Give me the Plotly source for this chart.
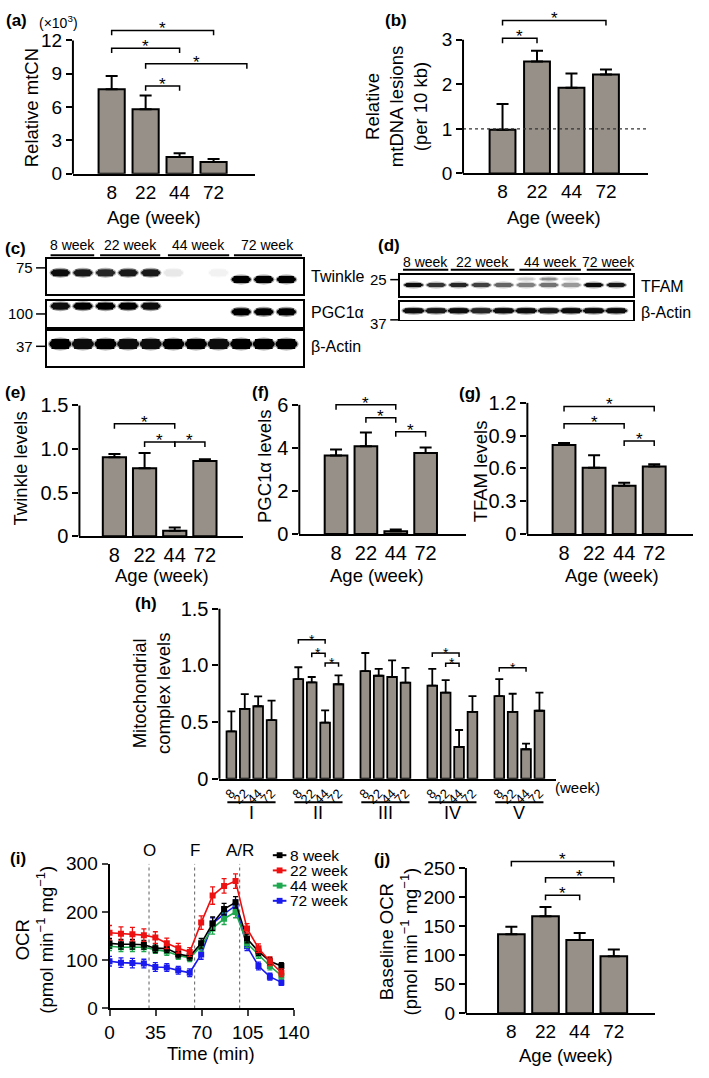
import plotly.graph_objects as go

W, H = 709, 1078
def PX(x): return x / W
def PY(y): return 1 - y / H

FONT = "Liberation Sans, Arial, Helvetica, sans-serif"
BAR_FILL = "#979089"

# ---------------- data ----------------
ages = ["8", "22", "44", "72"]
age_idx = [0, 1, 2, 3]

# (a) relative mtCN (x10^3)
mtcn = [7.6, 5.8, 1.5, 1.05]
mtcn_err = [1.2, 1.25, 0.35, 0.28]
mtcn_sig = [(0, 3, 12.9), (0, 2, 11.3), (1, 3.98, 9.9), (1, 2, 7.9)]

# (b) relative mtDNA lesions
lesions = [0.98, 2.51, 1.92, 2.22]
lesions_err = [0.58, 0.24, 0.32, 0.11]
lesions_sig = [(0, 3, 3.43), (0, 1, 3.03)]
lesion_ref = 1.0

# (e) Twinkle levels
twinkle = [0.907, 0.78, 0.064, 0.862]
twinkle_err = [0.037, 0.175, 0.036, 0.022]
twinkle_sig = [(0, 2, 1.29), (1, 2, 1.08), (2, 3, 1.08)]

# (f) PGC1a levels
pgc = [3.64, 4.07, 0.12, 3.76]
pgc_err = [0.28, 0.65, 0.08, 0.26]
pgc_sig = [(0, 2, 6.0), (1, 2, 5.4), (2, 3, 4.75)]

# (g) TFAM levels
tfam = [0.815, 0.605, 0.44, 0.618]
tfam_err = [0.018, 0.115, 0.028, 0.02]
tfam_sig = [(0, 3, 1.167), (0, 2, 1.008), (2, 3, 0.85)]

# (h) mitochondrial complex levels
complexes = ["I", "II", "III", "IV", "V"]
cx_vals = [
    [0.418, 0.617, 0.64, 0.517],
    [0.88, 0.851, 0.496, 0.834],
    [0.95, 0.909, 0.898, 0.848],
    [0.822, 0.76, 0.28, 0.59],
    [0.73, 0.59, 0.26, 0.60],
]
cx_errs = [
    [0.177, 0.13, 0.087, 0.173],
    [0.104, 0.047, 0.107, 0.078],
    [0.16, 0.061, 0.147, 0.13],
    [0.148, 0.11, 0.15, 0.14],
    [0.15, 0.16, 0.05, 0.16],
]
# (complex index, age i, age j, height)
cx_sig = [(1, 0, 2, 1.227), (1, 1, 2, 1.108), (1, 2, 3, 1.022),
          (3, 0, 2, 1.11), (3, 1, 2, 1.02), (4, 0, 2, 0.98)]

# (i) OCR time course
ocr_time = [0, 8.7, 17.4, 26.1, 34.8, 43.5, 52.2, 60.9, 69.6, 78.3, 87, 95.7, 104.4, 113.1, 121.8, 130.5]
ocr_names = ["8 week", "22 week", "44 week", "72 week"]
ocr_8 = [135, 133, 133, 132, 125, 124, 113, 108, 135, 176, 206, 220, 145, 118, 98, 88]
ocr_22 = [157, 155, 154, 152, 147, 135, 125, 117, 178, 234, 254, 264, 166, 125, 98, 74]
ocr_44 = [129, 127, 127, 127, 122, 118, 110, 105, 129, 166, 186, 200, 135, 112, 88, 68]
ocr_72 = [98, 95, 94, 93, 86, 85, 79, 74, 112, 176, 196, 213, 129, 88, 66, 54]
ocr_8_err = [10, 10, 10, 9, 9, 8, 8, 8, 10, 14, 12, 12, 9, 8, 8, 7]
ocr_22_err = [15, 14, 14, 13, 12, 11, 10, 9, 14, 18, 15, 15, 10, 9, 9, 8]
ocr_44_err = [9, 9, 9, 9, 8, 8, 8, 8, 10, 12, 12, 12, 9, 8, 8, 7]
ocr_72_err = [10, 10, 10, 9, 9, 8, 8, 8, 10, 12, 12, 12, 9, 8, 7, 6]
inj_times = [30, 64.6, 98.8]
inj_labels = ["O", "F", "A/R"]

# (j) baseline OCR
base_ocr = [136, 167, 126, 98]
base_ocr_err = [13, 16, 12, 12]
base_sig = [(0, 3, 261), (1, 3, 233), (1, 2, 203)]

# (c) western blot band intensities (11 lanes)
c_groups = ["8 week", "22 week", "44 week", "72 week"]
c_lanes = list(range(11))
c_twinkle = [0.95, 0.9, 0.85, 0.9, 0.9, 0.09, 0.0, 0.05, 1.0, 1.0, 1.0]
c_pgc = [0.95, 1.0, 1.0, 1.0, 0.95, 0.0, 0.0, 0.0, 1.0, 1.0, 1.0]
c_actin = [1.0, 0.95, 1.0, 0.95, 0.95, 1.0, 1.0, 0.95, 1.0, 1.0, 1.0]
# (d) western blot (10 lanes)
d_groups = ["8 week", "22 week", "44 week", "72 week"]
d_lanes = list(range(10))
d_tfam = [0.95, 0.8, 0.85, 0.75, 0.6, 0.5, 0.55, 0.4, 0.95, 0.9]
d_tfam_upper = [0, 0, 0, 0, 0, 0.2, 0.45, 0.15, 0, 0]
d_actin = [0.95, 0.9, 0.95, 0.85, 0.95, 0.95, 0.9, 0.95, 0.95, 0.95]

# ---------------- figure ----------------
fig = go.Figure()
annotations = []
shapes = []
layout = dict(width=W, height=H, margin=dict(l=0, r=0, t=0, b=0),
              paper_bgcolor="white", plot_bgcolor="white", showlegend=False,
              font=dict(family=FONT, color="black", size=18))
_n = [0]

def new_axes(x0, x1, ytop, ybot, xr, yr, xkw=None, ykw=None):
    _n[0] += 1
    s = "" if _n[0] == 1 else str(_n[0])
    xa = dict(domain=[PX(x0), PX(x1)], range=xr, anchor="y" + s, showgrid=False,
              zeroline=False, fixedrange=True)
    ya = dict(domain=[PY(ybot), PY(ytop)], range=yr, anchor="x" + s, showgrid=False,
              zeroline=False, fixedrange=True)
    xa.update(xkw or {})
    ya.update(ykw or {})
    layout["xaxis" + s] = xa
    layout["yaxis" + s] = ya
    return "x" + s, "y" + s

def text(x, y, t, size=18, xref="paper", yref="paper", xanchor="center", yanchor="middle", angle=0, **kw):
    d = dict(x=x, y=y, xref=xref, yref=yref, text=t, showarrow=False, xanchor=xanchor,
             yanchor=yanchor, textangle=angle, font=dict(size=size, family=FONT, color="black"))
    d.update(kw)
    annotations.append(d)

def brackets(xa, ya, sig, unit_px, drop_px=5, star=17, lw=1.5, gap=5.5):
    d = drop_px / unit_px
    for (i, j, h) in sig:
        fig.add_trace(go.Scatter(x=[i, i, j, j], y=[h - d, h, h, h - d], mode="lines",
                                 line=dict(color="black", width=lw), xaxis=xa, yaxis=ya,
                                 cliponaxis=False, hoverinfo="skip"))
        text((i + j) / 2, h, "*", size=star, xref=xa, yref=ya, yanchor="middle",
             yshift=gap - 0.23 * star)

def bar_panel(x0, x1, ytop, ybot, xr, yr, ytickvals, yticktext, vals, errs, sig,
              bw=0.77, tickfont=19, capw=6, xs=None, xtext=None, xtickangle=0, xtickfont=None,
              star=17, drop=5, ethick=2, lw=2, gap=5.5):
    xs = xs if xs is not None else age_idx
    xtext = xtext if xtext is not None else ages
    unit = (ybot - ytop) / (yr[1] - yr[0])
    top_val = max([h for (_, _, h) in sig] + [yr[1]])
    top_px = max(ybot - (top_val - yr[0]) * unit - 4, 0.5)
    ext = yr[0] + (ybot - top_px) / unit
    xa, ya = new_axes(x0, x1, top_px, ybot, xr, [yr[0], ext],
                      xkw=dict(showline=True, linewidth=2, linecolor="black", ticks="",
                               tickmode="array", tickvals=xs, ticktext=xtext, tickangle=xtickangle,
                               tickfont=dict(size=xtickfont or tickfont)),
                      ykw=dict(showline=False, ticks="outside",
                               ticklen=6, tickwidth=2, tickcolor="black", tickmode="array",
                               tickvals=ytickvals, ticktext=yticktext, tickfont=dict(size=tickfont)))
    shapes.append(dict(type="line", xref="paper", yref=ya, x0=PX(x0), x1=PX(x0),
                       y0=yr[0] - 1 / unit, y1=yr[1], line=dict(color="black", width=2)))
    fig.add_trace(go.Bar(x=xs, y=vals, width=bw, xaxis=xa, yaxis=ya,
                         marker=dict(color=BAR_FILL, line=dict(color="black", width=lw)),
                         error_y=dict(type="data", symmetric=False, array=errs,
                                      arrayminus=[0] * len(errs), color="black",
                                      thickness=ethick, width=capw)))
    brackets(xa, ya, sig, unit, drop_px=drop, star=star, gap=gap)
    return xa, ya

# (a)
bar_panel(70, 258, 31, 167, [-1.14, 4.23], [0, 12], [0, 3, 6, 9, 12],
          ["0", "3", "6", "9", "12"], mtcn, mtcn_err, mtcn_sig)
text(PX(12), PY(11), "<b>(a)</b>", size=17)
text(PX(55), PY(12), "(×10<sup>3</sup>)", size=14)
text(PX(27), PY(100), "Relative mtCN", size=18.5, angle=-90)
text(PX(154), PY(212), "Age (week)", size=18.5)

# (b)
xa, ya = bar_panel(472, 663, 30.3, 166.7, [-1.146, 4.23], [0, 3], [0, 1, 2, 3],
                   ["0", "1", "2", "3"], lesions, lesions_err, lesions_sig, bw=0.75)
fig.add_trace(go.Scatter(x=[-1.146, 4.23], y=[lesion_ref, lesion_ref], mode="lines",
                         line=dict(color="#333333", width=1.2, dash="dot"),
                         xaxis=xa, yaxis=ya, hoverinfo="skip"))
text(PX(403), PY(11), "<b>(b)</b>", size=17)
text(PX(403), PY(99), "Relative<br>mtDNA lesions<br>(per 10 kb)", size=18.5, angle=-90)
text(PX(566), PY(212), "Age (week)", size=18.5)

# blots
def blot_axes(x0, x1, ytop, ybot, xr):
    return new_axes(x0, x1, ytop, ybot, xr, [0, 1],
                    xkw=dict(showline=True, mirror=True, linewidth=1.6, linecolor="black",
                             showticklabels=False, ticks=""),
                    ykw=dict(showline=True, mirror=True, linewidth=1.6, linecolor="black",
                             showticklabels=False, ticks=""))

def gray(a):
    v = int(round(255 * (1 - a)))
    return f"rgb({v},{v},{v})"

def blot_row(xa, ya, row_px, lanes, ys, intens, thick, hw):
    dy = thick / 2 / row_px
    halo = 1.6 / row_px
    for k, yb, a in zip(lanes, ys, intens):
        if a <= 0:
            continue
        shapes.append(dict(type="circle", xref=xa, yref=ya, x0=k - hw - 0.05, x1=k + hw + 0.05,
                           y0=yb - dy - halo, y1=yb + dy + halo, fillcolor=gray(0.35 * a),
                           line=dict(width=0), layer="below"))
    for k, yb, a in zip(lanes, ys, intens):
        if a <= 0:
            continue
        shapes.append(dict(type="circle", xref=xa, yref=ya, x0=k - hw, x1=k + hw,
                           y0=yb - dy, y1=yb + dy, fillcolor=gray(a), line=dict(width=0),
                           layer="below"))
        shapes.append(dict(type="rect", xref=xa, yref=ya, x0=k - hw + 0.1, x1=k + hw - 0.1,
                           y0=yb - dy, y1=yb + dy, fillcolor=gray(a), line=dict(width=0),
                           layer="below"))

c_xr = [-0.6, 10.73]
xt, yt = blot_axes(43, 307, 254, 290, c_xr)
blot_row(xt, yt, 36, c_lanes, [0.61] * 8 + [0.42] * 3, c_twinkle, 7, 0.43)
xp, yp = blot_axes(43, 307, 296.7, 323.3, c_xr)
blot_row(xp, yp, 26.6, c_lanes, [0.8] * 8 + [0.58] * 3, c_pgc, 7, 0.43)
xb, yb = blot_axes(43, 307, 327.3, 363.3, c_xr)
blot_row(xb, yb, 36, c_lanes, [0.63] * 11, c_actin, 10, 0.49)
c_spans = [(-0.43, 1.5), (1.76, 4.42), (4.76, 7.47), (7.68, 10.69)]
for g, (s0, s1) in zip(c_groups, c_spans):
    shapes.append(dict(type="line", xref=xt, yref="paper", x0=s0, x1=s1, y0=PY(250), y1=PY(250),
                       line=dict(color="black", width=2)))
    text((s0 + s1) / 2, PY(240), g, size=14, xref=xt)
for lbl, yy in zip(["75", "100", "37"], [263, 310, 343]):
    text(PX(31), PY(yy), lbl, size=15, xanchor="right")
    shapes.append(dict(type="line", xref="paper", yref="paper", x0=PX(32), x1=PX(43),
                       y0=PY(yy), y1=PY(yy), line=dict(color="black", width=1.5)))
text(PX(313), PY(272), "Twinkle", size=16, xanchor="left")
text(PX(313), PY(308), "PGC1α", size=16, xanchor="left")
text(PX(313), PY(343), "β-Actin", size=16, xanchor="left")
text(PX(11), PY(243), "<b>(c)</b>", size=17)

d_xr = [-0.62, 9.75]
xtf, ytf = blot_axes(406.7, 647.3, 270, 291.7, d_xr)
blot_row(xtf, ytf, 21.7, d_lanes, [0.8] * 10, d_tfam_upper, 2.5, 0.4)
blot_row(xtf, ytf, 21.7, d_lanes, [0.52] * 10, d_tfam, 4, 0.43)
xda, yda = blot_axes(406.7, 647.3, 297.3, 316, d_xr)
blot_row(xda, yda, 18.7, d_lanes, [0.5] * 10, d_actin, 5, 0.49)
d_spans = [(-0.47, 1.54), (1.65, 4.48), (4.7, 7.43), (7.69, 9.66)]
for g, (s0, s1) in zip(d_groups, d_spans):
    shapes.append(dict(type="line", xref=xtf, yref="paper", x0=s0, x1=s1, y0=PY(265), y1=PY(265),
                       line=dict(color="black", width=2)))
    text((s0 + s1) / 2, PY(256.7), g, size=14, xref=xtf)
text(PX(396), PY(275), "25", size=15, xanchor="right")
shapes.append(dict(type="line", xref="paper", yref="paper", x0=PX(397), x1=PX(406.7),
                   y0=PY(275), y1=PY(275), line=dict(color="black", width=1.5)))
text(PX(396), PY(320), "37", size=15, xanchor="right")
shapes.append(dict(type="line", xref="paper", yref="paper", x0=PX(397), x1=PX(406.7),
                   y0=PY(316), y1=PY(316), line=dict(color="black", width=1.5)))
text(PX(653), PY(282), "TFAM", size=16, xanchor="left")
text(PX(653), PY(308), "β-Actin", size=16, xanchor="left")
text(PX(396), PY(240), "<b>(d)</b>", size=17)

# (e)
bar_panel(76.7, 245.5, 403.3, 536.7, [-1.16, 4.27], [0, 1.5], [0, 0.5, 1.0, 1.5],
          ["0", "0.5", "1.0", "1.5"], twinkle, twinkle_err, twinkle_sig, bw=0.77, tickfont=20)
text(PX(11), PY(390), "<b>(e)</b>", size=17)
text(PX(16), PY(468), "Twinkle levels", size=18.5, angle=-90)
text(PX(162), PY(577), "Age (week)", size=18.5)

# (f)
bar_panel(303.3, 475, 402.7, 534.3, [-1.23, 4.35], [0, 6], [0, 2, 4, 6],
          ["0", "2", "4", "6"], pgc, pgc_err, pgc_sig, bw=0.76, tickfont=20)
text(PX(263), PY(390), "<b>(f)</b>", size=17)
text(PX(268), PY(465), "PGC1α levels", size=18.5, angle=-90)
text(PX(383), PY(577), "Age (week)", size=18.5)

# (g)
bar_panel(538.3, 709, 400.7, 534.3, [-1.22, 4.29], [0, 1.2], [0, 0.3, 0.6, 0.9, 1.2],
          ["0", "0.3", "0.6", "0.9", "1.2"], tfam, tfam_err, tfam_sig, bw=0.76, tickfont=20)
text(PX(479), PY(391), "<b>(g)</b>", size=17)
text(PX(490), PY(470), "TFAM levels", size=18.5, angle=-90)
text(PX(626), PY(577), "Age (week)", size=18.5)

# (h)
h_x = [5 * g + i for g in range(5) for i in range(4)]
h_text = [a for g in range(5) for a in ages]
h_vals = [v for row in cx_vals for v in row]
h_errs = [e for row in cx_errs for e in row]
h_sig = [(5 * g + i, 5 * g + j, hh) for (g, i, j, hh) in cx_sig]
xh, yh = bar_panel(221, 568, 610.7, 784, [-0.89, 24.25], [0, 1.5], [0, 0.5, 1.0, 1.5],
                   ["0", "0.5", "1.0", "1.5"], h_vals, h_errs, h_sig, bw=0.72, tickfont=20,
                   capw=4, xs=h_x, xtext=h_text, xtickangle=-45, xtickfont=13, star=14, drop=4,
                   ethick=1.8, lw=1.8, gap=3)
for g, name in enumerate(complexes):
    shapes.append(dict(type="line", xref=xh, yref="paper", x0=5 * g - 0.3, x1=5 * g + 3.3,
                       y0=PY(808), y1=PY(808), line=dict(color="black", width=2)))
    text(5 * g + 1.5, PY(819), name, size=18, xref=xh)
text(PX(590), PY(793), "(week)", size=15)
text(PX(145), PY(605), "<b>(h)</b>", size=17)
text(PX(151), PY(697), "Mitochondrial<br>complex levels", size=18.5, angle=-90)

# (i)
xi, yi = new_axes(107.7, 297.7, 870.7, 1018.3, [0, 140], [0, 300],
                  xkw=dict(showline=True, linewidth=2, linecolor="black", ticks="outside",
                           ticklen=6, tickwidth=2, tickvals=[0, 35, 70, 105, 140],
                           tickfont=dict(size=19)),
                  ykw=dict(showline=True, linewidth=2, linecolor="black", ticks="outside",
                           ticklen=6, tickwidth=2, tickvals=[0, 100, 200, 300],
                           tickfont=dict(size=19)))
for t in inj_times:
    fig.add_trace(go.Scatter(x=[t, t], y=[0, 300], mode="lines", xaxis=xi, yaxis=yi,
                             line=dict(color="#777777", width=1.2, dash="dot"), hoverinfo="skip"))
for t, lbl in zip(inj_times, inj_labels):
    text(t, 300, lbl, size=17, xref=xi, yref=yi, yanchor="bottom", yshift=2)
ocr_colors = ["#000000", "#ee1111", "#1fa84f", "#1a1aee"]
series = [(ocr_8, ocr_8_err), (ocr_22, ocr_22_err), (ocr_44, ocr_44_err), (ocr_72, ocr_72_err)]
order = [3, 2, 0, 1]
for k in order:
    vals, errs = series[k]
    fig.add_trace(go.Scatter(x=ocr_time, y=vals, mode="lines+markers", name=ocr_names[k],
                             xaxis=xi, yaxis=yi,
                             line=dict(color=ocr_colors[k], width=1.6),
                             marker=dict(symbol="square", size=6, color=ocr_colors[k]),
                             error_y=dict(type="data", array=errs, color=ocr_colors[k],
                                          thickness=1.3, width=2.5)))
leg_y = [862, 877.5, 893, 908.5]
for k in range(4):
    shapes.append(dict(type="line", xref="paper", yref="paper", x0=PX(276), x1=PX(290),
                       y0=PY(leg_y[k]), y1=PY(leg_y[k]), line=dict(color=ocr_colors[k], width=2)))
    shapes.append(dict(type="rect", xref="paper", yref="paper", x0=PX(280), x1=PX(286),
                       y0=PY(leg_y[k] + 3), y1=PY(leg_y[k] - 3), fillcolor=ocr_colors[k],
                       line=dict(width=0)))
    text(PX(292), PY(leg_y[k]), ocr_names[k], size=15.5, xanchor="left")
text(PX(13), PY(865), "<b>(i)</b>", size=17)
text(PX(30), PY(948), "OCR<br>(pmol min<sup>−1</sup> mg<sup>−1</sup>)", size=18.5, angle=-90)
text(PX(212.5), PY(1064), "Time (min)", size=18.5)

# (j)
bar_panel(475, 670, 875, 1023.3, [-1.33, 4.21], [0, 250], [0, 50, 100, 150, 200, 250],
          ["0", "50", "100", "150", "200", "250"], base_ocr, base_ocr_err, base_sig, bw=0.78,
          tickfont=19)
text(PX(388), PY(866), "<b>(j)</b>", size=17)
text(PX(405), PY(950), "Baseline OCR<br>(pmol min<sup>−1</sup> mg<sup>−1</sup>)", size=18.5, angle=-90)
text(PX(578), PY(1066), "Age (week)", size=18.5)

layout["annotations"] = annotations
layout["shapes"] = shapes
fig.update_layout(**layout)
fig.write_html("out.html", config={"displayModeBar": False, "staticPlot": True},
               post_script="document.body.style.margin='0px';document.body.style.overflow='hidden';"
                           "document.documentElement.style.overflow='hidden';")
